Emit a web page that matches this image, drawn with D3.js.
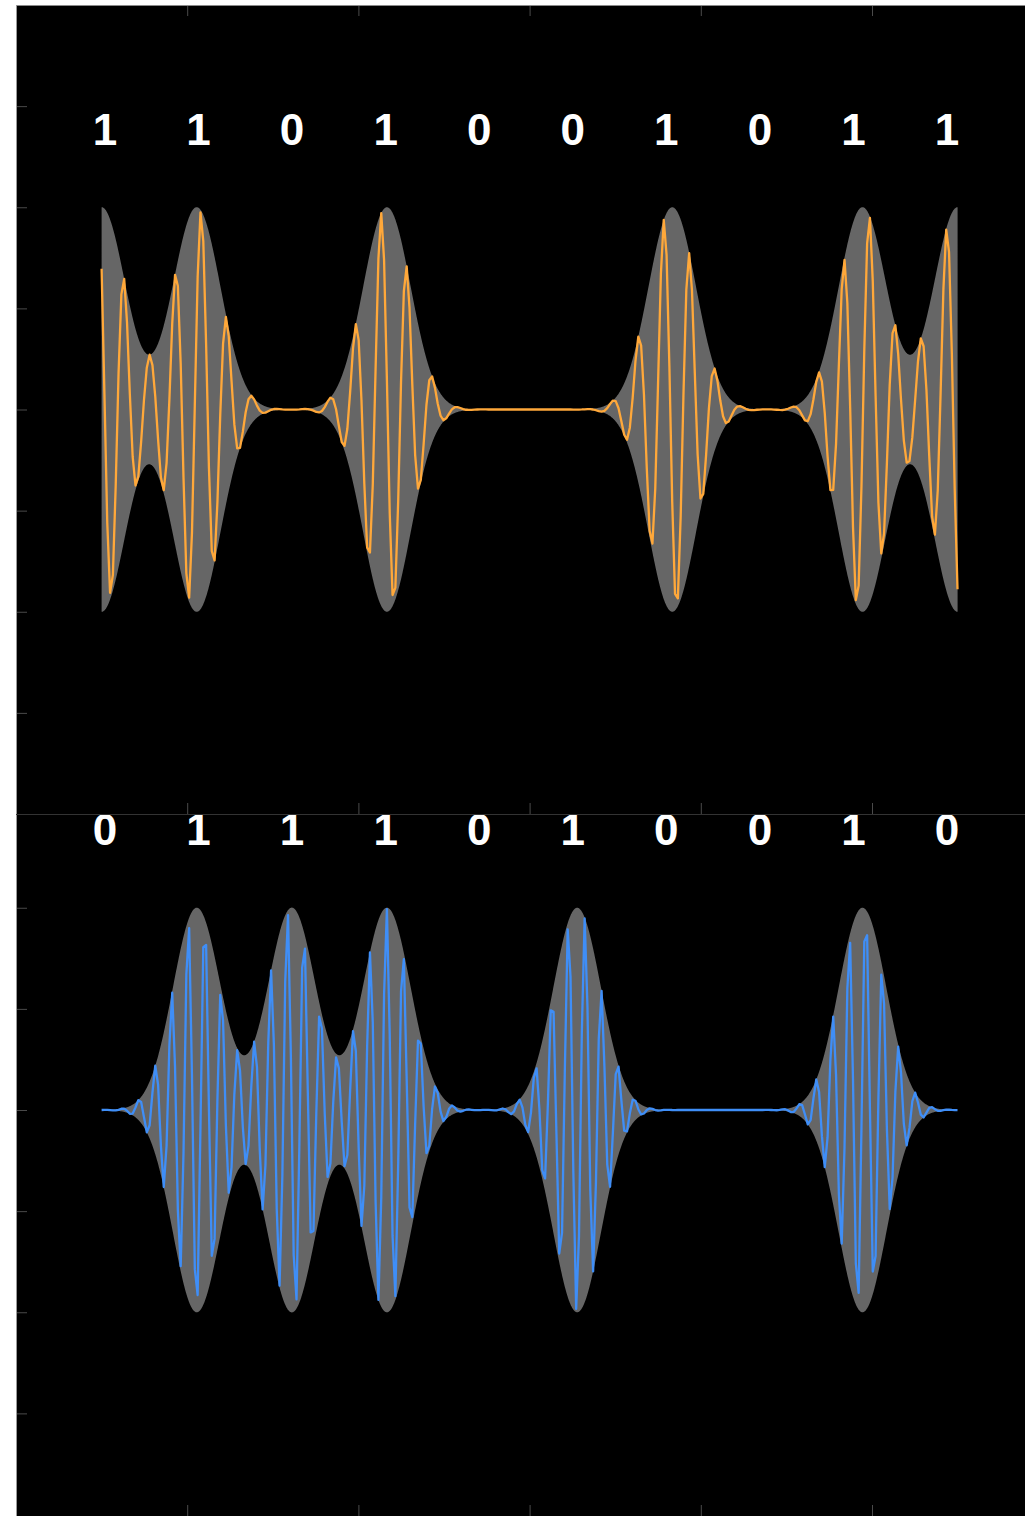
<!DOCTYPE html>
<html><head><meta charset="utf-8">
<script src="https://cdn.jsdelivr.net/npm/d3@7/dist/d3.min.js"></script>
<style>html,body{margin:0;padding:0;background:#fff;}svg{display:block;}</style>
</head><body>
<script>
// ---- data ----
const bitsTop = [1, 1, 0, 1, 0, 0, 1, 0, 1, 1];
const bitsBottom = [0, 1, 1, 1, 0, 1, 0, 0, 1, 0];
const xTickValues = [1, 2, 3, 4, 5];
const yTickValues = [-3, -2, -1, 0, 1, 2, 3];
const bitSpan = [0.5, 5.5];          // axis units covered by bit 0 .. bit 9
const pulseAmp = 2;                   // envelope peak
const pulseSigmaBits = 0.25;          // gaussian width in bit periods
const carrierTop = {freq: 6.66, peakAt: 0.631, end: 5.5};
const carrierBottom = {freq: 10.36, peakAt: 3.323, end: 5.515};

const W = 1025, H = 1516;
const svg = d3.select("body").append("svg").attr("width", W).attr("height", H);
svg.append("rect").attr("width", W).attr("height", H).attr("fill", "#fff");

const x = d3.scaleLinear().domain([0, 6]).range([16, 1043.2]);
const bitPos = d3.scaleLinear().domain([0, 9]).range(bitSpan);
const labelPos = d3.scaleLinear().domain([0, 9]).range([x.invert(105), x.invert(947)]);
const sigma = pulseSigmaBits * (bitSpan[1] - bitSpan[0]) / 9;

function env(bits, u) {
  let s = 0;
  bits.forEach((b, i) => { if (b) { const d = u - bitPos(i); s += pulseAmp * Math.exp(-d * d / (2 * sigma * sigma)); } });
  return s;
}

function panel(g, bits, y, carrier, color, clipTop, clipBottom, id) {
  svg.append("clipPath").attr("id", id).append("rect")
    .attr("x", 16).attr("y", clipTop).attr("width", W - 16).attr("height", clipBottom - clipTop);
  g.append("rect").attr("x", 16).attr("y", clipTop).attr("width", W - 16).attr("height", clipBottom - clipTop).attr("fill", "#000");
  const inner = g.append("g").attr("clip-path", `url(#${id})`);
  // envelope
  const envPts = d3.range(bitSpan[0], carrier.end + 1e-9, 0.002).map(u => [u, env(bits, u)]);
  inner.append("path").datum(envPts)
    .attr("d", d3.area().x(d => x(d[0])).y0(d => y(-d[1])).y1(d => y(d[1])))
    .attr("fill", "#666666");
  // modulated carrier
  const sigPts = d3.range(bitSpan[0], carrier.end + 1e-9, 0.0165).map(u =>
    [u, env(bits, u) * Math.cos(2 * Math.PI * carrier.freq * (u - carrier.peakAt))]);
  inner.append("path").datum(sigPts)
    .attr("d", d3.line().x(d => x(d[0])).y(d => y(d[1])))
    .attr("fill", "none").attr("stroke", color).attr("stroke-width", 2.3).attr("stroke-linejoin", "round");
  // y ticks
  const ya = inner.append("g").attr("transform", "translate(16,0)")
    .call(d3.axisLeft(y).tickValues(yTickValues).tickSize(-11).tickFormat(""));
  ya.select(".domain").remove();
  ya.selectAll("line").attr("stroke", "#4a4a4a");
  // bit labels
  g.selectAll("text.bit").data(bits).join("text")
    .attr("x", (d, i) => x(labelPos(i))).attr("y", y(2.62))
    .attr("text-anchor", "middle").attr("fill", "#fff")
    .attr("font-family", "'Liberation Sans', Arial, Helvetica, sans-serif")
    .attr("font-weight", "bold").attr("font-size", 44)
    .text(d => d);
}

// bottom panel first (partly covered by top panel)
const yBot = d3.scaleLinear().domain([-4, 4]).range([1514.5, 705.5]);
const gBot = svg.append("g");
panel(gBot, bitsBottom, yBot, carrierBottom, "#3f8ef7", 814, H, "clipB");
const xb = gBot.append("g").attr("transform", "translate(0,1516)")
  .call(d3.axisBottom(x).tickValues(xTickValues).tickSize(-11).tickFormat(""));
xb.select(".domain").remove();
xb.selectAll("line").attr("stroke", "#4a4a4a");

// top panel
const yTop = d3.scaleLinear().domain([-4, 4]).range([814, 5]);
const gTop = svg.append("g");
panel(gTop, bitsTop, yTop, carrierTop, "#ffa83a", 5, 814, "clipT");
const xt = gTop.append("g").attr("transform", "translate(0,5)")
  .call(d3.axisTop(x).tickValues(xTickValues).tickSize(-11).tickFormat(""));
xt.select(".domain").remove();
xt.selectAll("line").attr("stroke", "#4a4a4a");
const xtb = gTop.append("g").attr("transform", "translate(0,814)")
  .call(d3.axisBottom(x).tickValues(xTickValues).tickSize(-11).tickFormat(""));
xtb.select(".domain").remove();
xtb.selectAll("line").attr("stroke", "#4a4a4a");

// spines
svg.append("line").attr("x1", 16).attr("x2", W).attr("y1", 5.5).attr("y2", 5.5).attr("stroke", "#8a8a8a");
svg.append("line").attr("x1", 16.5).attr("x2", 16.5).attr("y1", 5).attr("y2", H).attr("stroke", "#9a9a9a");
svg.append("line").attr("x1", 16).attr("x2", W).attr("y1", 814.5).attr("y2", 814.5).attr("stroke", "#333");
</script>
</body></html>
